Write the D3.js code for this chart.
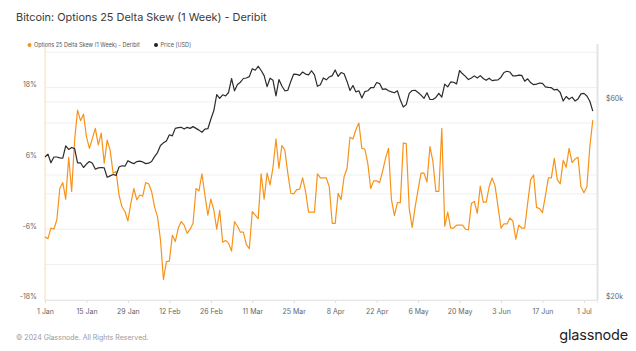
<!DOCTYPE html>
<html>
<head>
<meta charset="utf-8">
<script src="https://cdn.jsdelivr.net/npm/d3@7"></script>
<style>
  html, body { margin: 0; padding: 0; background: #fff; }
  svg { display: block; font-family: Inter, "Noto Sans", sans-serif; }
</style>
</head>
<body>
<div id="chart"></div>
<script>
// ngày đầu tiên của chuỗi, mỗi điểm là 1 ngày
const startDate = new Date(Date.UTC(2024, 0, 1));
const endDomain = new Date(Date.UTC(2024, 6, 5, 10));

// 25 delta skew (1 tuần), đơn vị %
const skew = [
  -7.3, -7.6, -5.8, -6.0, -4.4, 0.9, 1.9, -0.9, 6.2, 0.4,
  9.1, 14.2, 12.4, 13.5, 9.7, 7.7, 9.4, 11.1, 8.3, 10.3,
  5.2, 9.1, 7.4, 3.5, 3.8, -0.2, -2.2, -3.0, -4.6, -1.6,
  0.9, -1.0, -0.2, -0.4, 1.9, 1.7, 0.4, -2.2, -3.9, -7.8,
  -14.5, -11.5, -11.4, -7.0, -8.1, -5.8, -4.7, -5.3, -6.7, -6.0,
  -5.0, 0.9, 0.5, 3.4, -0.2, -3.6, -0.9, -2.7, -6.0, -2.8,
  -8.2, -7.9, -8.4, -9.7, -4.7, -5.5, -6.5, -6.5, -8.6, -9.3,
  -3.0, -3.6, -4.2, 3.4, -0.9, 3.5, 1.5, 4.5, 9.3, 4.3,
  8.2, 7.4, 3.5, 0.1, 0.0, 0.7, 0.8, 2.7, 0.4, -3.1,
  -3.1, -3.1, 3.4, 2.7, 2.7, 2.7, 1.2, -5.0, -5.0, 0.1,
  -1.0, 2.9, 4.3, 9.6, 9.3, 10.9, 12.0, 7.7, 7.6, 5.2,
  0.9, 2.2, 2.2, 1.9, 3.8, 6.0, 7.7, -1.0, -3.7, -1.5,
  -1.5, 8.6, 8.5, -2.5, -5.7, -2.2, 0.7, 3.5, 3.5, 2.0,
  8.0, 5.5, 0.4, 0.4, 11.1, -5.5, -3.1, -5.8, -5.8, -5.3,
  -5.3, -5.3, -6.0, -6.1, -1.6, -1.3, -3.3, 1.3, -1.4, -1.4,
  1.2, 2.7, 1.3, -2.2, -5.8, -5.1, -5.1, -4.1, -4.6, -7.7,
  -5.3, -5.8, -5.8, -1.6, 2.4, 3.2, -2.3, -2.5, -3.2, -0.3,
  2.7, 2.7, 6.0, 2.4, 1.7, 5.7, 4.5, 7.7, 5.3, 5.9,
  6.2, 1.2, 0.2, 1.2, 8.0, 12.5
];

// giá BTC (USD, nghìn)
const price = [
  44.2, 44.9, 42.8, 44.2, 44.2, 44.0, 43.9, 47.0, 46.1, 46.6,
  46.3, 42.8, 42.8, 41.7, 42.5, 43.1, 42.7, 41.3, 41.6, 41.7,
  41.6, 39.5, 39.8, 40.1, 39.9, 41.8, 42.1, 42.0, 43.3, 42.9,
  42.6, 43.1, 43.2, 43.0, 42.6, 42.7, 43.1, 44.3, 45.3, 47.1,
  47.8, 48.3, 50.0, 49.7, 51.8, 52.0, 52.1, 51.6, 52.1, 51.8,
  52.3, 51.8, 51.3, 50.7, 51.6, 51.7, 54.5, 57.1, 62.5, 61.2,
  62.4, 62.0, 63.2, 68.3, 63.8, 66.1, 66.9, 68.3, 68.5, 69.0,
  72.1, 71.5, 73.1, 71.4, 69.4, 65.3, 68.4, 67.6, 62.0, 67.9,
  65.5, 63.8, 64.0, 67.2, 70.0, 69.9, 69.5, 70.8, 70.0, 69.7,
  71.3, 69.7, 65.4, 66.0, 68.5, 67.8, 68.9, 69.4, 71.6, 69.1,
  70.6, 70.1, 67.2, 63.9, 65.7, 63.4, 63.8, 61.3, 63.5, 63.8,
  64.9, 64.9, 66.8, 66.4, 64.3, 64.5, 63.8, 63.4, 63.1, 63.8,
  60.6, 58.3, 59.1, 62.9, 63.9, 64.0, 63.2, 62.3, 61.2, 63.1,
  60.8, 60.8, 61.5, 62.9, 61.6, 66.2, 65.2, 67.0, 66.9, 66.3,
  71.4, 70.1, 69.1, 67.9, 68.5, 69.3, 68.5, 69.4, 68.3, 67.6,
  68.4, 67.5, 67.7, 67.8, 68.8, 70.6, 71.1, 70.8, 69.3, 69.3,
  69.6, 69.5, 67.3, 68.2, 66.8, 66.0, 66.2, 66.6, 66.5, 65.2,
  65.0, 64.9, 64.1, 64.3, 63.2, 60.3, 61.8, 60.9, 61.6, 60.3,
  61.0, 62.7, 62.9, 62.0, 60.2, 57.0
].map(d => d * 1000);

// nhãn trục
const xTicks = ["2024-01-01", "2024-01-15", "2024-01-29", "2024-02-12", "2024-02-26", "2024-03-11",
  "2024-03-25", "2024-04-08", "2024-04-22", "2024-05-06", "2024-05-20", "2024-06-03", "2024-06-17", "2024-07-01"];
const leftGrid = [-18, -12, -6, 0, 12, 18, 24];
const leftLabels = [-18, -6, 6, 18];
const rightGrid = [40000, 60000];
const rightLabels = [20000, 60000];

const data = skew.map((v, i) => ({
  date: d3.utcDay.offset(startDate, i),
  skew: v,
  price: price[i]
}));

const width = 636, height = 351;
const margin = { top: 44, right: 39, bottom: 51, left: 45 };

const svg = d3.select("#chart").append("svg")
  .attr("width", width)
  .attr("height", height);

const x = d3.scaleUtc()
  .domain([startDate, endDomain])
  .range([margin.left, width - margin.right]);

const yL = d3.scaleLinear()
  .domain([-18, 25.4])
  .range([height - margin.bottom, margin.top]);

const yR = d3.scaleLog()
  .domain([20000, 82700])
  .range([height - margin.bottom, margin.top]);

// tiêu đề
svg.append("text")
  .attr("x", 16).attr("y", 20.5)
  .attr("fill", "#3a3a3a")
  .style("font-size", "10.9px")
  .text("Bitcoin: Options 25 Delta Skew (1 Week) - Deribit");

// lưới ngang
svg.append("g").selectAll("line")
  .data(leftGrid)
  .join("line")
  .attr("x1", margin.left).attr("x2", width - margin.right)
  .attr("y1", d => yL(d)).attr("y2", d => yL(d))
  .attr("stroke", "#efefef");

svg.append("g").selectAll("line")
  .data(rightGrid)
  .join("line")
  .attr("x1", margin.left).attr("x2", width - margin.right)
  .attr("y1", d => yR(d)).attr("y2", d => yR(d))
  .attr("stroke", "#efefef");

// trục x
const xAxis = svg.append("g")
  .attr("transform", `translate(0,${height - margin.bottom})`)
  .call(d3.axisBottom(x)
    .tickValues(xTicks.map(d => new Date(d + "T00:00:00Z")))
    .tickFormat(d3.utcFormat("%-d %b"))
    .tickSize(3)
    .tickPadding(6));
xAxis.select(".domain").attr("stroke", "#e6e6e6");
xAxis.selectAll(".tick line").attr("stroke", "#ddd");
xAxis.selectAll(".tick text")
  .attr("fill", "#666")
  .style("font-size", "7px")
  .style("font-family", "Inter, sans-serif");

// trục trái (màu cam nhạt)
svg.append("line")
  .attr("x1", margin.left).attr("x2", margin.left)
  .attr("y1", margin.top).attr("y2", height - margin.bottom)
  .attr("stroke", "#fde6cc")
  .attr("stroke-width", 1.5);

svg.append("g").selectAll("text")
  .data(leftLabels)
  .join("text")
  .attr("x", 37)
  .attr("y", d => yL(d) - 3)
  .attr("dy", "0.35em")
  .attr("text-anchor", "end")
  .attr("fill", "#666")
  .style("font-size", "7px")
  .text(d => d + "%");

// trục phải
svg.append("line")
  .attr("x1", width - margin.right + 0.5).attr("x2", width - margin.right + 0.5)
  .attr("y1", margin.top).attr("y2", height - margin.bottom)
  .attr("stroke", "#e3e3e3")
  .attr("stroke-width", 2);

svg.append("g").selectAll("text")
  .data(rightLabels)
  .join("text")
  .attr("x", 606)
  .attr("y", d => yR(d) - 3)
  .attr("dy", "0.35em")
  .attr("fill", "#666")
  .style("font-size", "7px")
  .text(d => "$" + d / 1000 + "k");

// đường skew
svg.append("path")
  .datum(data)
  .attr("fill", "none")
  .attr("stroke", "#f7931a")
  .attr("stroke-width", 1.2)
  .attr("stroke-linejoin", "round")
  .attr("d", d3.line().x(d => x(d.date)).y(d => yL(d.skew)));

// đường giá
svg.append("path")
  .datum(data)
  .attr("fill", "none")
  .attr("stroke", "#2b2b2b")
  .attr("stroke-width", 1.2)
  .attr("stroke-linejoin", "round")
  .attr("d", d3.line().x(d => x(d.date)).y(d => yR(d.price)));

// chú thích
const legend = [
  { label: "Options 25 Delta Skew (1 Week) - Deribit", color: "#f7931a", x: 29.5 },
  { label: "Price [USD]", color: "#222", x: 156 }
];
const lg = svg.append("g").selectAll("g")
  .data(legend)
  .join("g")
  .attr("transform", d => `translate(${d.x},45)`);
lg.append("circle").attr("r", 2).attr("fill", d => d.color);
lg.append("text")
  .attr("x", 4.5).attr("dy", "0.35em")
  .attr("fill", "#555")
  .style("font-size", "5.5px")
  .text(d => d.label);

// chân trang
svg.append("text")
  .attr("x", 16).attr("y", 339.5)
  .attr("fill", "#9a9a9a")
  .style("font-size", "7px")
  .text("© 2024 Glassnode. All Rights Reserved.");

svg.append("text")
  .attr("x", 628).attr("y", 340)
  .attr("text-anchor", "end")
  .attr("fill", "#1e1e1e")
  .style("font-size", "14.5px")
  .style("letter-spacing", "-0.2px")
  .text("glassnode");
</script>
</body>
</html>
